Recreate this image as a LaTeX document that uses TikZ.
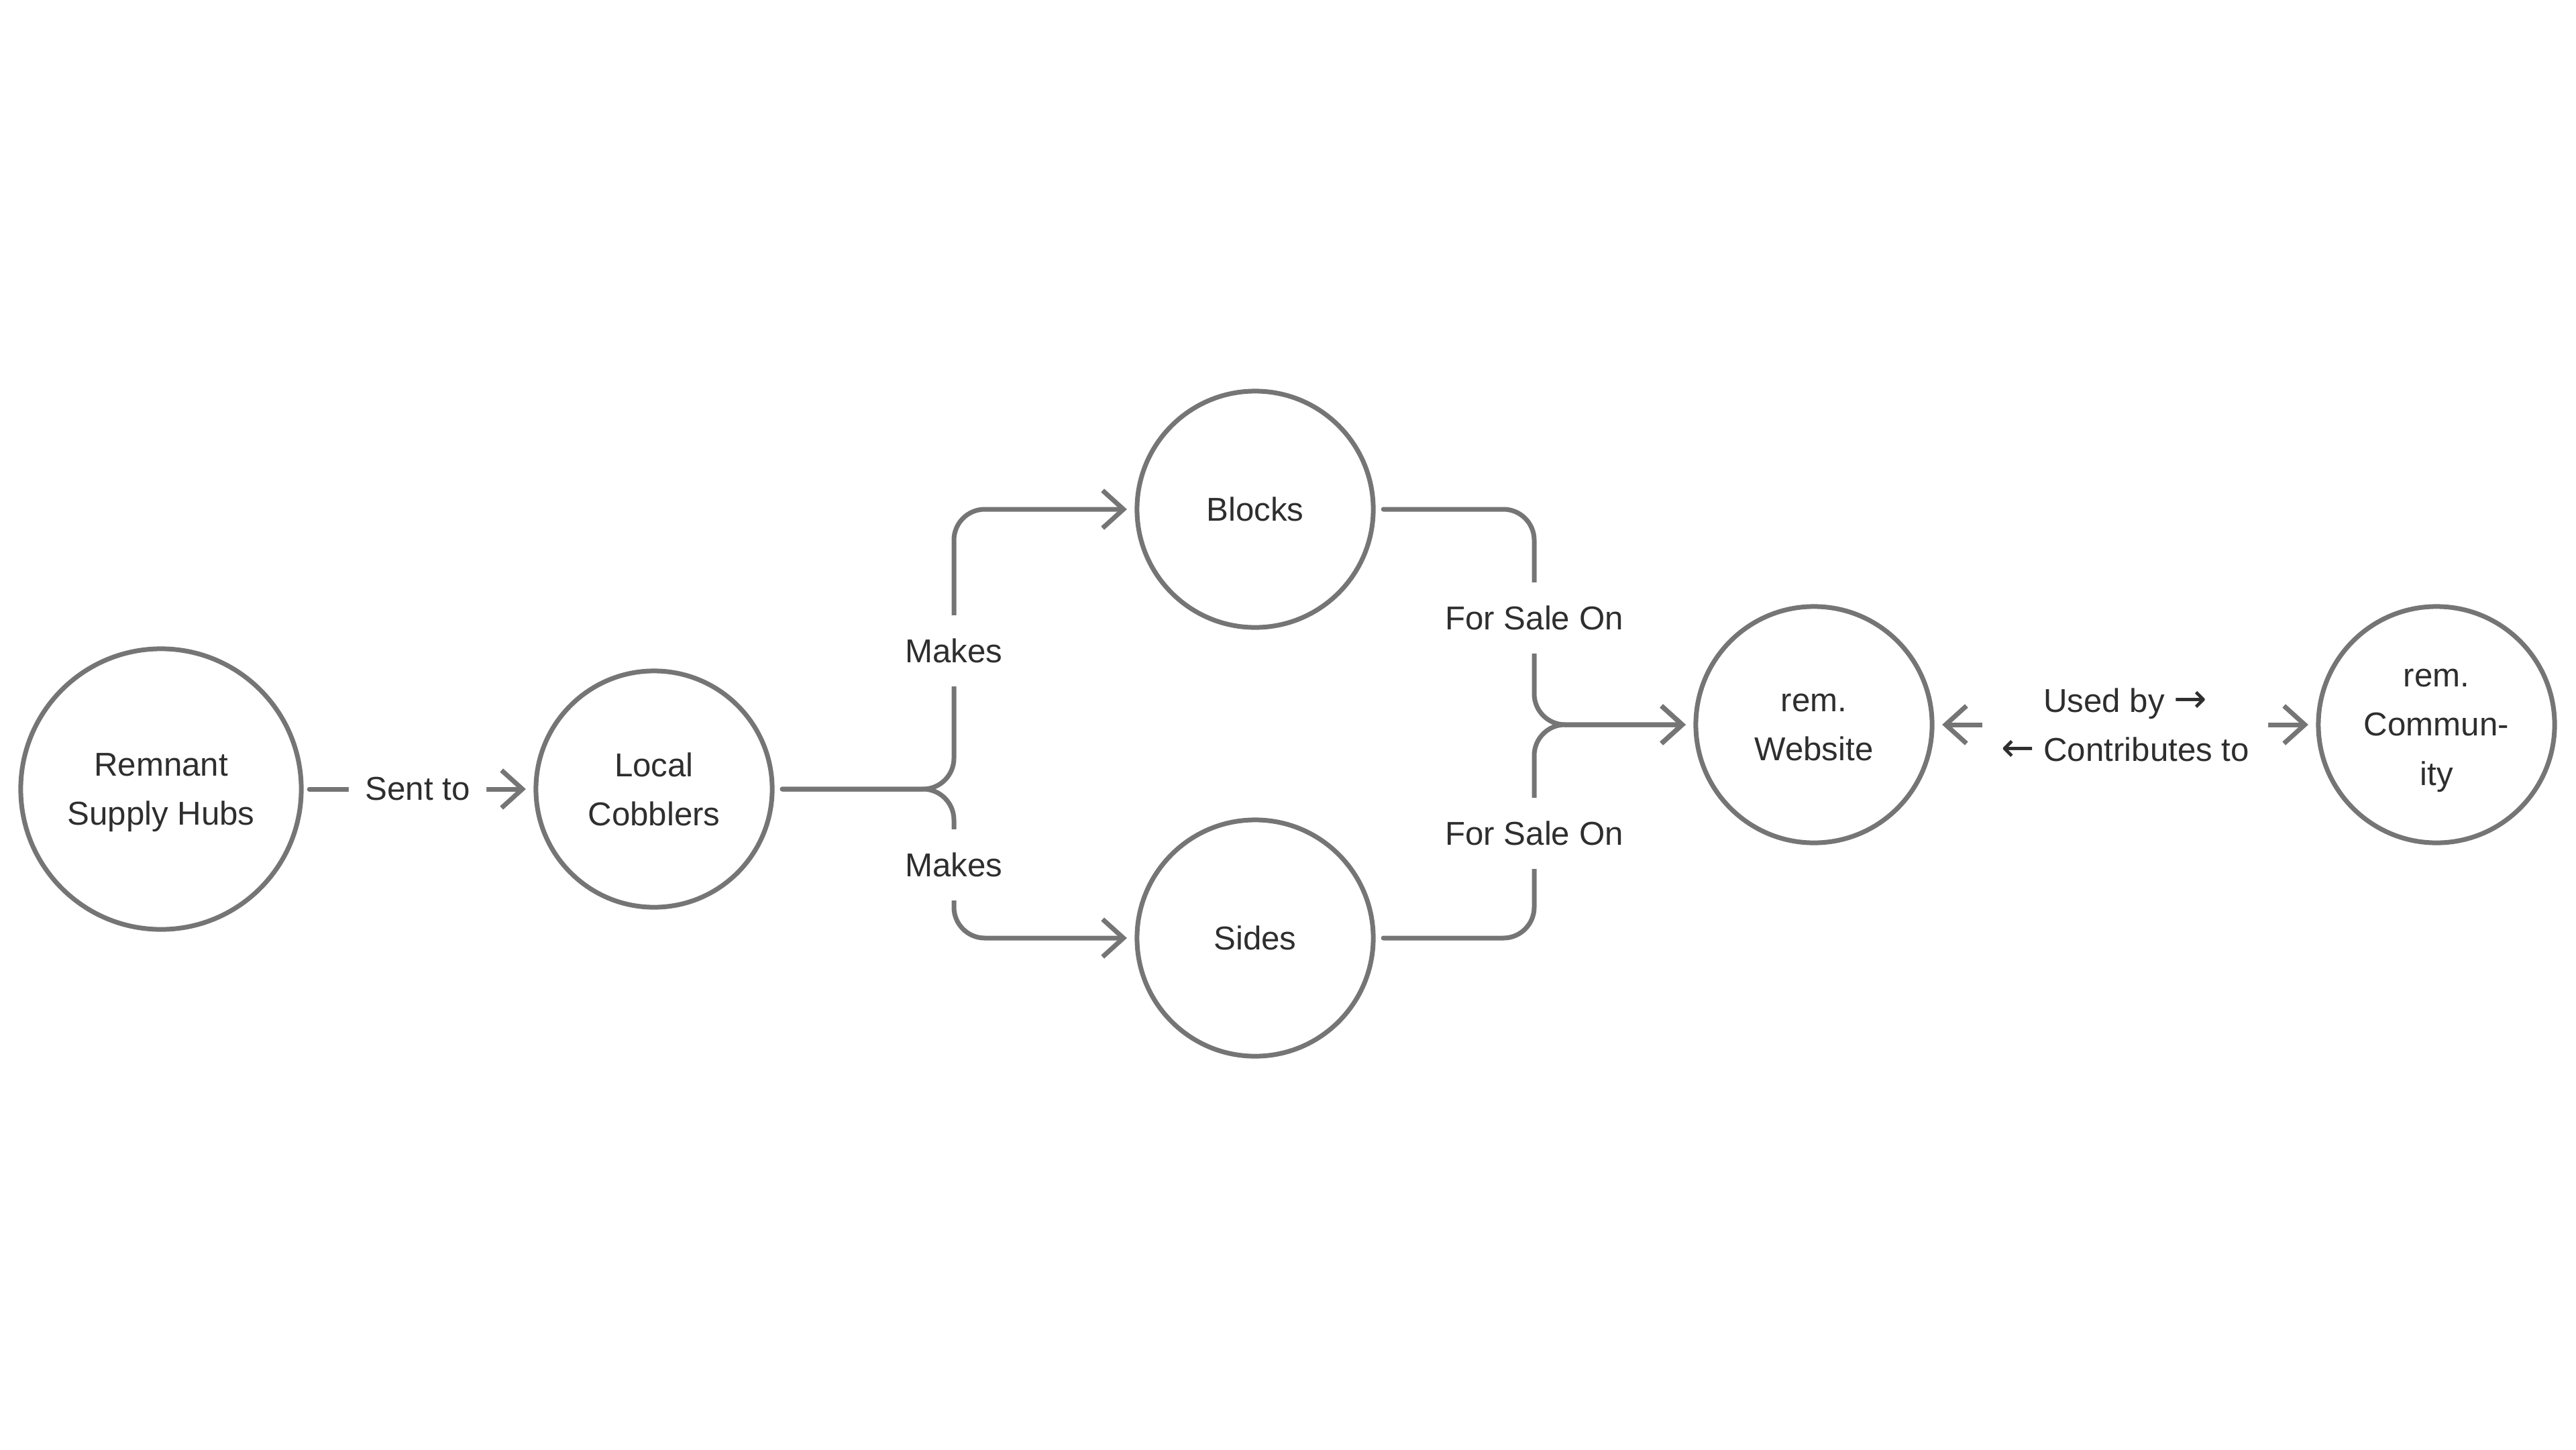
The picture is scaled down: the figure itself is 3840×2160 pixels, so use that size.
\documentclass[tikz,border=0pt]{standalone}
\usepackage{fontspec}
\setmainfont{Liberation Sans}
\newfontfamily\arrowfont{DejaVu Sans}[Scale=1.2]
\usetikzlibrary{arrows.meta}
\definecolor{lc}{HTML}{757575}
\definecolor{tc}{HTML}{2E2E2E}
\newcommand{\ra}{{\arrowfont →}}
\newcommand{\la}{{\arrowfont ←}}
\begin{document}
\begin{tikzpicture}[x=0.01cm,y=-0.01cm,
  txt/.style={text=tc, font=\fontsize{14}{20.8}\selectfont},
  circ/.style={circle, draw=lc, line width=0.07cm, minimum size=3.52cm, inner sep=0pt, outer sep=0.15cm, align=center, text depth=0pt, txt},
  conn/.style={draw=lc, line width=0.07cm, rounded corners=0.46cm, line cap=round, line join=round, -{Straight Barb[length=0.31cm,width=0.56cm]}},
  lbl/.style={fill=white, inner xsep=7pt, inner ysep=10pt, align=center, txt}]
\useasboundingbox (0,0) rectangle (3840,2160);
\fill[white] (0,0) rectangle (3840,2160);

% nodes
\node[circ, minimum size=4.18cm, outer sep=0.12cm] (hub) at (240,1176) {\vphantom{H}Remnant\\Supply Hubs};
\node[circ] (cob) at (975,1176) {\vphantom{H}Local\\Cobblers};
\node[circ] (blk) at (1871,759) {Blocks};
\node[circ] (sid) at (1871,1398) {Sides};
\node[circ] (web) at (2704,1080) {\vphantom{H}rem.\\Website};
\node[circ] (com) at (3632,1080) {\vphantom{H}rem.\\Commun-\\ity};

\coordinate (j1) at (1422,1176);
\coordinate (j2) at (2287,1080);

% connectors
\draw[conn] (hub) -- (cob) node[lbl, midway] (l1) {Sent to};
\draw[conn] (cob) -- (j1) |- (blk.west);
\draw[conn] (cob) -- (j1) |- (sid.west);
\draw[conn] (blk.east) -| (j2) -- (web.west);
\draw[conn] (sid.east) -| (j2) -- (web.west);
\draw[conn, {Straight Barb[length=0.31cm,width=0.56cm]}-{Straight Barb[length=0.31cm,width=0.56cm]}] (web) -- (com) node[lbl, midway, inner xsep=8pt] (l6) {Used by \ra\\\la{} Contributes to};

% labels on vertical segments
\node[lbl] (l2) at (1422,970) {Makes};
\node[lbl] (l3) at (1422,1289) {Makes};
\node[lbl] (l4) at (2287,921) {For Sale On};
\node[lbl] (l5) at (2287,1242) {For Sale On};
\end{tikzpicture}
\end{document}
